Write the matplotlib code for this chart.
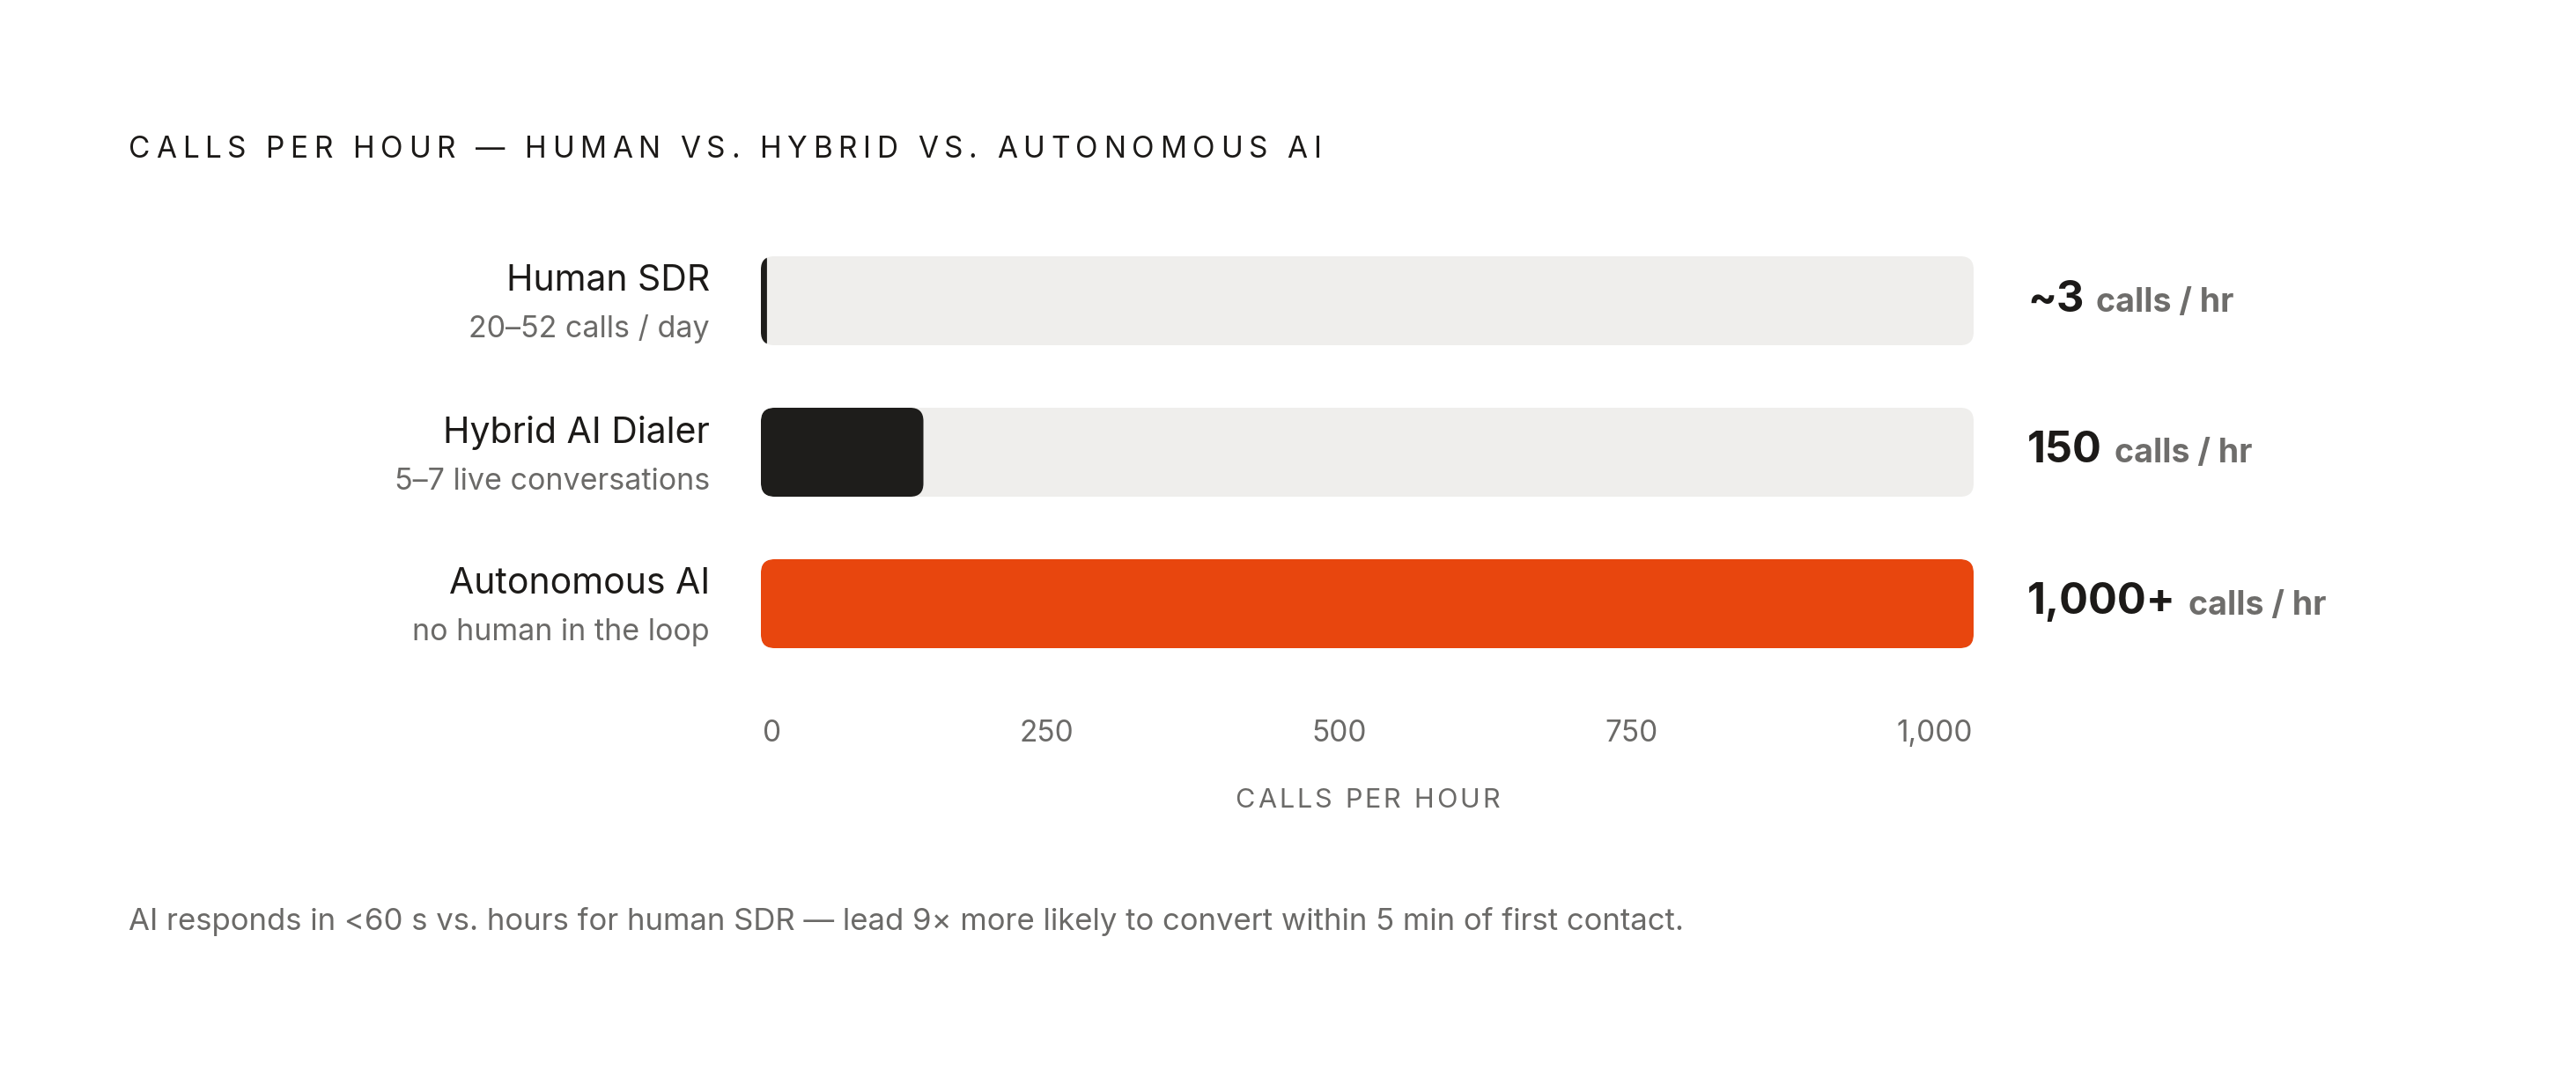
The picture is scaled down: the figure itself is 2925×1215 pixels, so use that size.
import matplotlib
matplotlib.use('Agg')
import matplotlib.pyplot as plt
from matplotlib.patches import FancyBboxPatch
from matplotlib.font_manager import FontProperties

# data
categories = ['Human SDR', 'Hybrid AI Dialer', 'Autonomous AI']
subtitles = ['20–52 calls / day', '5–7 live conversations', 'no human in the loop']
bar_values = [5, 134, 1000]          # filled length as drawn
value_labels = ['~3', '150', '1,000+']
unit_label = 'calls / hr'
fill_colors = ['#1e1d1b', '#1e1d1b', '#e8460e']
tick_values = [0, 250, 500, 750, 1000]
tick_labels = ['0', '250', '500', '750', '1,000']
x_max = 1000
title = 'CALLS PER HOUR — HUMAN VS. HYBRID VS. AUTONOMOUS AI'
axis_title = 'CALLS PER HOUR'
footnote = ('AI responds in <60 s vs. hours for human SDR — lead 9× more likely '
            'to convert within 5 min of first contact.')

FONT = ['Inter', 'DejaVu Sans']
DARK = '#1c1a18'
GREY = '#6b6a68'
TRACK = '#efeeec'

W, H = 2925, 1215
fig = plt.figure(figsize=(W / 100, H / 100), dpi=100)
fig.patch.set_facecolor('white')
r = fig.canvas.get_renderer()

def fx(x):
    return x / W

def fy(y):
    return 1 - y / H

def tracked(x, y, s, size, track_em, color, weight='normal', ha='left'):
    # letter-spaced text, x/y in pixels from top-left, y = baseline
    prop = FontProperties(family=FONT, size=size, weight=weight)
    w0 = r.get_text_width_height_descent('HH', prop, ismath=False)[0]
    advs = [r.get_text_width_height_descent('H' + c + 'H', prop, ismath=False)[0] - w0 for c in s]
    gap = track_em * size * 100 / 72
    total = sum(advs) + gap * (len(s) - 1)
    if ha == 'center':
        x = x - total / 2
    for c, a in zip(s, advs):
        if c != ' ':
            fig.text(fx(x), fy(y), c, fontproperties=prop, color=color, va='baseline', ha='left')
        x += a + gap

# bars
track_l, track_w = 864, 1377
row_px = 172
bar_px = 101
top_px = 291
ax_h = (len(categories) - 1) * row_px + bar_px
ax = fig.add_axes([fx(track_l), fy(top_px + ax_h), track_w / W, ax_h / H])
half = bar_px / 2 / row_px
ax.set_xlim(0, x_max)
ax.set_ylim(len(categories) - 1 + half, -half)
ax.axis('off')

rad_x = 15 * x_max / track_w
aspect = (1 / row_px) / (x_max / track_w)
bar_h = bar_px / row_px
for i, v in enumerate(bar_values):
    track = FancyBboxPatch((0, i - bar_h / 2), x_max, bar_h,
                           boxstyle=f'round,pad=0,rounding_size={rad_x}',
                           mutation_aspect=aspect, fc=TRACK, ec='none')
    ax.add_patch(track)
    rr = min(rad_x, v / 2)
    fill = FancyBboxPatch((0, i - bar_h / 2), v, bar_h,
                          boxstyle=f'round,pad=0,rounding_size={rr}',
                          mutation_aspect=aspect, fc=fill_colors[i], ec='none')
    ax.add_patch(fill)
    fill.set_clip_path(track)

# row labels and values
for i, name in enumerate(categories):
    yc = top_px + bar_px / 2 + i * row_px
    fig.text(fx(806), fy(yc - 11), name, family=FONT, size=29.5, color=DARK,
             ha='right', va='baseline')
    fig.text(fx(806), fy(yc + 42), subtitles[i], family=FONT, size=24.5, color=GREY,
             ha='right', va='baseline')
    t = fig.text(fx(2302), fy(yc + 12), value_labels[i], family=FONT, size=35,
                 weight='bold', color=DARK, ha='left', va='baseline')
    x1 = t.get_window_extent(r).x1
    fig.text(fx(x1 + 14), fy(yc + 12), unit_label, family=FONT, size=27,
             weight='bold', color='#6e6d6b', ha='left', va='baseline')

# tick labels, spread edge to edge
prop_t = FontProperties(family=FONT, size=24)
widths = [r.get_text_width_height_descent(s, prop_t, ismath=False)[0] for s in tick_labels]
left, right = 866, 2240
gap = (right - left - sum(widths)) / (len(tick_labels) - 1)
x = left
for s, w in zip(tick_labels, widths):
    fig.text(fx(x), fy(842), s, fontproperties=prop_t, color=GREY, ha='left', va='baseline')
    x += w + gap

tracked(track_l + track_w / 2, 917, axis_title, 22, 0.1, GREY, ha='center')
tracked(146, 179, title, 24, 0.2, DARK)
fig.text(fx(146), fy(1056), footnote, family=FONT, size=25, color=GREY,
         ha='left', va='baseline')

fig.savefig('out.png', dpi=100, facecolor='white')
